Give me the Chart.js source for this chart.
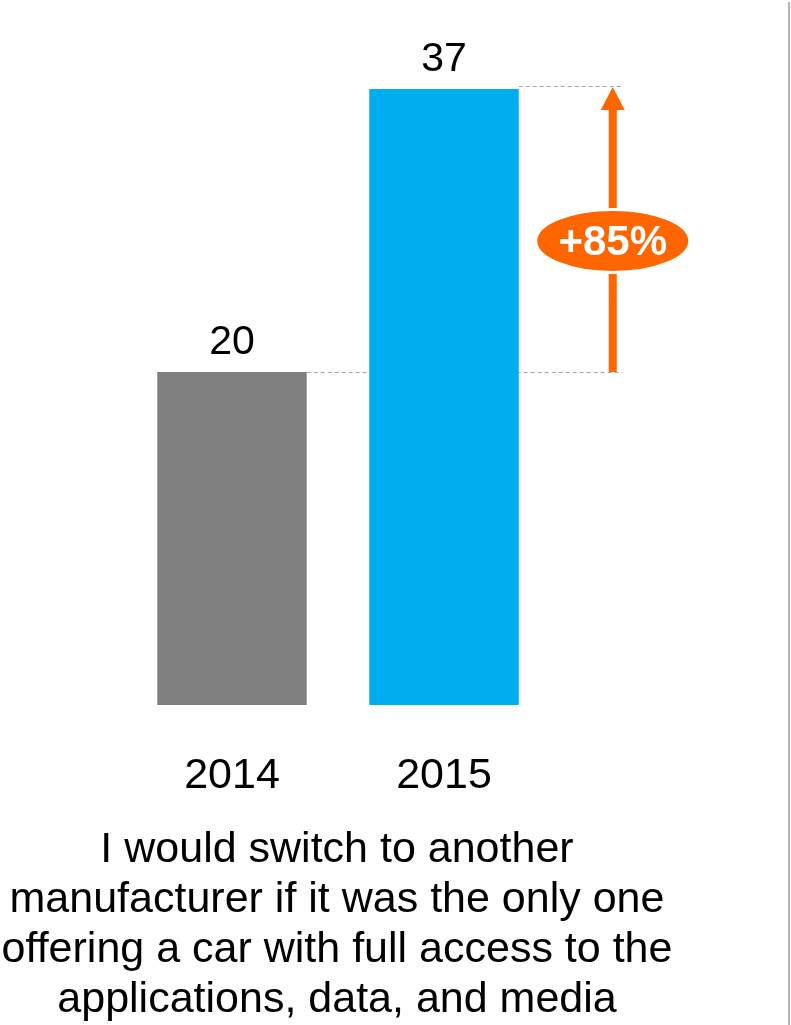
<!DOCTYPE html>
<html>
<head>
<meta charset="utf-8">
<script src="https://cdn.jsdelivr.net/npm/chart.js@4.4.1/dist/chart.umd.min.js"></script>
<style>
    html, body { margin: 0; padding: 0; background: #fff; }
    canvas { display: block; }
</style>
</head>
<body>
<canvas id="switchChart" width="791" height="1025"></canvas>
<script>
// chart data
const years = ['2014', '2015'];
const shares = [20, 37];
const barColors = ['#808080', '#00AEEF'];
const captionLines = [
    'I would switch to another',
    'manufacturer if it was the only one',
    'offering a car with full access to the',
    'applications, data, and media'
];

const FONT = '"Liberation Sans", Arial, sans-serif';
const ORANGE = '#FF6600';

// dashed guide lines, growth arrow, caption and the divider on the right
const growthPlugin = {
    id: 'growth',
    beforeDatasetsDraw(chart) {
        const c = chart.ctx;
        const bars = chart.getDatasetMeta(0).data;
        const y = chart.scales.y;
        const yLow = y.getPixelForValue(shares[0]);
        const yHigh = y.getPixelForValue(shares[1]);
        const rightBlue = bars[1].x + bars[1].width / 2;
        const rightGray = bars[0].x + bars[0].width / 2;
        const lineEnd = rightBlue + 104;

        c.save();
        c.strokeStyle = '#a6a6a6';
        c.lineWidth = 1;
        c.setLineDash([4, 3]);
        c.beginPath();
        c.moveTo(rightGray, Math.round(yLow) + 0.5);
        c.lineTo(lineEnd, Math.round(yLow) + 0.5);
        c.moveTo(rightBlue, Math.round(yHigh) - 2.5);
        c.lineTo(lineEnd, Math.round(yHigh) - 2.5);
        c.stroke();
        c.restore();
    },
    afterDatasetsDraw(chart) {
        const c = chart.ctx;
        const bars = chart.getDatasetMeta(0).data;
        const y = chart.scales.y;
        const area = chart.chartArea;
        const yLow = y.getPixelForValue(shares[0]);
        const yHigh = y.getPixelForValue(shares[1]) - 2;
        const ax = bars[1].x + bars[1].width / 2 + 94;
        const headH = 23;

        c.save();
        // arrow shaft + head
        c.fillStyle = ORANGE;
        c.fillRect(ax - 4, yHigh + headH, 8, yLow - yHigh - headH);
        c.beginPath();
        c.moveTo(ax, yHigh);
        c.lineTo(ax + 12, yHigh + headH);
        c.lineTo(ax - 12, yHigh + headH);
        c.closePath();
        c.fill();

        // percentage bubble
        const cy = (yHigh + headH + yLow) / 2;
        c.beginPath();
        c.ellipse(ax, cy, 77, 31.5, 0, 0, Math.PI * 2);
        c.fillStyle = ORANGE;
        c.fill();
        c.lineWidth = 3;
        c.strokeStyle = '#fff';
        c.stroke();

        const pct = Math.round((shares[1] - shares[0]) / shares[0] * 100);
        c.fillStyle = '#fff';
        c.font = 'bold 42px ' + FONT;
        c.textAlign = 'center';
        c.textBaseline = 'middle';
        c.fillText('+' + pct + '%', ax, cy + 2);

        // value labels above the bars
        c.fillStyle = '#000';
        c.font = '41px ' + FONT;
        c.textBaseline = 'alphabetic';
        bars.forEach((bar, i) => {
            c.fillText(String(shares[i]), bar.x, bar.y - 18);
        });

        // caption under the years (drawn here so it isn't squeezed to the chart width)
        c.font = '43px ' + FONT;
        const midX = (area.left + area.right) / 2 - 1;
        captionLines.forEach((line, i) => {
            c.fillText(line, midX, area.bottom + 157 + i * 50);
        });

        // divider on the right edge
        c.fillStyle = '#b4b4b4';
        c.fillRect(788, 2, 2, chart.height - 2);
        c.restore();
    }
};

new Chart(document.getElementById('switchChart'), {
    type: 'bar',
    data: {
        labels: years,
        datasets: [{
            data: shares,
            backgroundColor: barColors,
            barPercentage: 0.705,
            categoryPercentage: 1.0
        }]
    },
    options: {
        responsive: false,
        animation: false,
        layout: {
            padding: { left: 126, right: 241, top: 39, bottom: 0 }
        },
        plugins: {
            legend: { display: false },
            tooltip: { enabled: false }
        },
        scales: {
            y: {
                display: false,
                min: 0,
                max: 40
            },
            x: {
                grid: { display: false, drawTicks: false },
                border: { display: false },
                ticks: {
                    color: '#000',
                    padding: 45,
                    font: { family: FONT, size: 43 }
                },
                afterFit(scale) {
                    scale.height = 320;
                }
            }
        }
    },
    plugins: [growthPlugin]
});
</script>
</body>
</html>
